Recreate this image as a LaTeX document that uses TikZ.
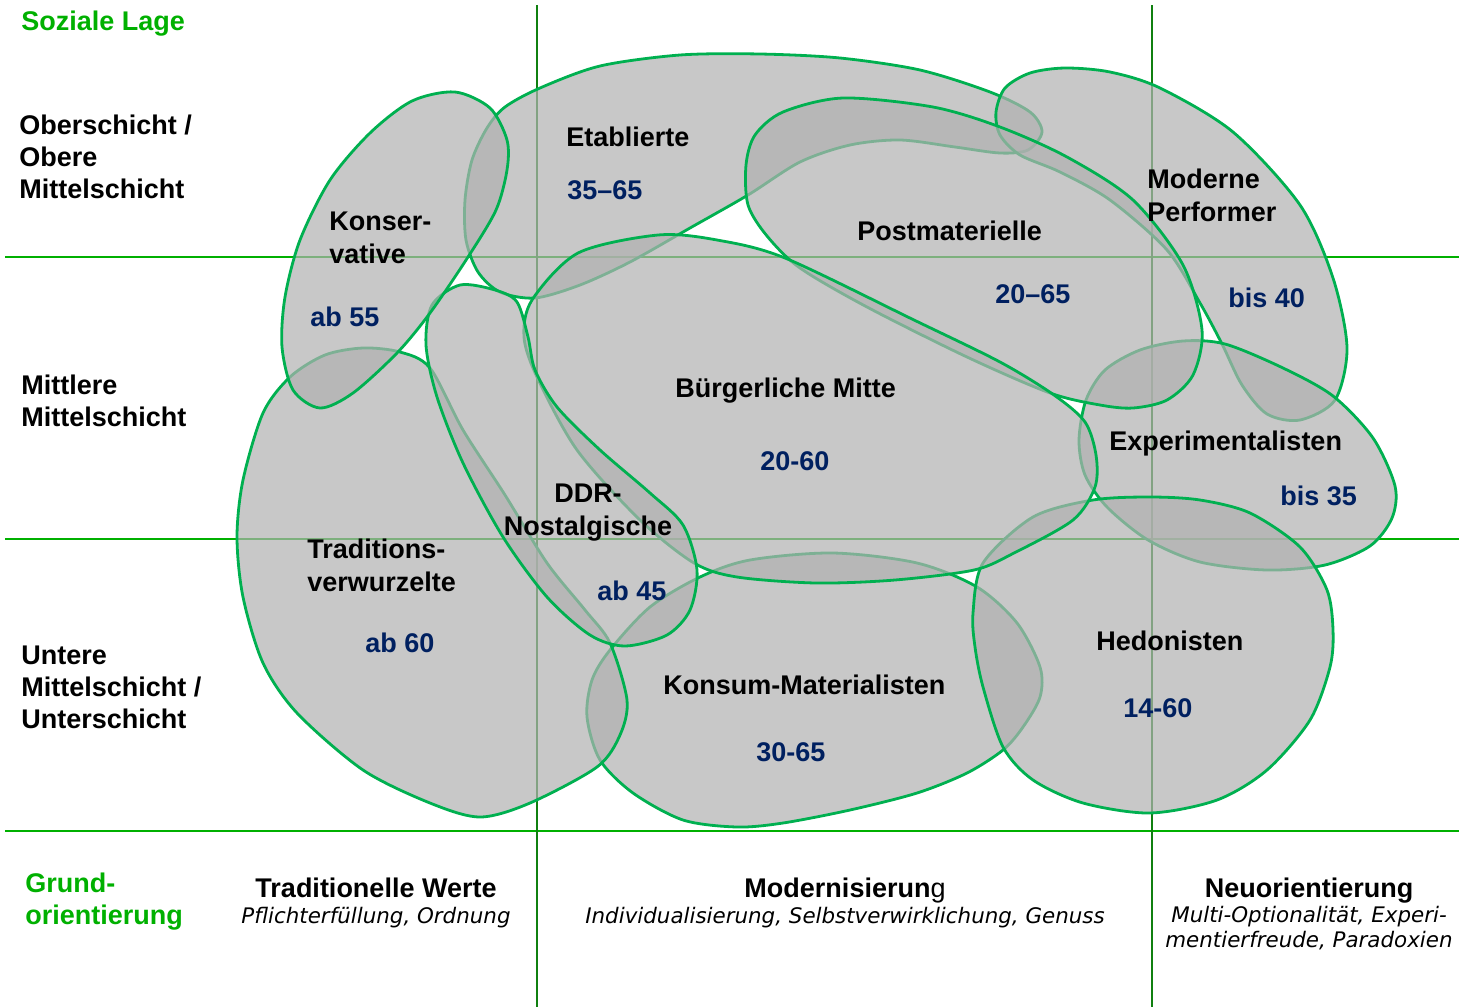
\documentclass[tikz,border=0pt]{standalone}
\usepackage{fontspec}
\setmainfont{Liberation Sans}
\newfontfamily\verdfont{DejaVu Sans}
\usepackage{xcolor}
\usepackage{tikz}

\definecolor{linegreen}{RGB}{0,176,0}
\definecolor{axisgreen}{RGB}{16,128,16}
\definecolor{blobline}{RGB}{0,176,80}
\definecolor{blobgray}{RGB}{177,177,177}
\definecolor{agenavy}{RGB}{0,32,96}

\begin{document}
\begin{tikzpicture}[x=0.5pt,y=-0.5pt,
    milieu/.style={draw=blobline, line width=1.4pt, fill=blobgray, fill opacity=0.71},
    hline/.style={draw=linegreen, line width=1pt},
    vline/.style={draw=axisgreen, line width=1pt},
    layertext/.style={font=\fontsize{13.5}{16}\selectfont\bfseries, inner sep=0pt, anchor=west, align=left},
    milieutext/.style={font=\fontsize{13.5}{16.5}\selectfont\bfseries, inner sep=0pt, anchor=base west, align=left},
    agetext/.style={milieutext, text=agenavy},
    valuehead/.style={font=\fontsize{13.5}{16}\selectfont\bfseries, inner sep=0pt, anchor=base, align=center},
    valuesub/.style={font=\verdfont\itshape\fontsize{10.7}{12.5}\selectfont, inner sep=0pt, anchor=base, align=center}]
    \useasboundingbox (0,0) rectangle (1459,1007);

    % raster
    \foreach \y in {257,539,831}
        \draw[hline] (5,\y) -- (1459,\y);
    \foreach \x in {537,1152}
        \draw[vline] (\x,5) -- (\x,1007);

    % milieus, lowest first
    \draw[milieu] plot[smooth cycle] coordinates {(505,107) (540,88) (600,66) (680,55) (760,54) (840,58) (920,70) (990,92) (1030,112) (1042,132) (1028,150) (1000,153) (955,147) (900,140) (850,145) (800,162) (748,195) (690,228) (630,262) (580,285) (535,298) (500,292) (478,272) (466,240) (465,200) (472,160) (487,128)};
    \draw[milieu] plot[smooth cycle] coordinates {(996,112) (1005,88) (1030,73) (1065,68) (1110,72) (1160,88) (1233,132) (1300,205) (1333,278) (1347,348) (1335,400) (1300,420) (1267,414) (1242,385) (1222,344) (1200,303) (1167,250) (1110,200) (1060,172) (1020,155) (1000,135)};
    \draw[milieu] plot[smooth cycle] coordinates {(1079,440) (1086,400) (1105,370) (1140,350) (1183,341) (1225,344) (1283,368) (1333,396) (1373,438) (1395,486) (1392,518) (1370,546) (1325,565) (1267,570) (1200,562) (1148,540) (1107,507) (1085,475)};
    \draw[milieu] plot[smooth cycle] coordinates {(748,205) (746,165) (755,135) (783,112) (843,98) (933,107) (1000,127) (1067,157) (1133,200) (1183,265) (1202,330) (1193,375) (1167,400) (1133,408) (1100,405) (1050,393) (967,357) (867,307) (800,268) (767,236)};
    \draw[milieu] plot[smooth cycle] coordinates {(587,717) (592,680) (610,650) (650,607) (700,577) (750,560) (833,553) (917,563) (977,587) (1017,623) (1040,667) (1040,697) (1023,727) (1003,750) (967,773) (917,793) (850,810) (783,823) (737,827) (683,820) (633,793) (600,760)};
    \draw[milieu] plot[smooth cycle] coordinates {(363,348) (400,352) (430,368) (463,430) (505,495) (547,563) (585,610) (610,643) (627,700) (620,735) (597,767) (530,803) (480,817) (430,803) (363,770) (297,713) (263,663) (243,597) (237,537) (243,480) (263,413) (290,377) (325,355)};
    \draw[milieu] plot[smooth cycle] coordinates {(1150,497) (1200,500) (1250,513) (1300,547) (1327,590) (1333,630) (1330,667) (1310,720) (1267,770) (1217,800) (1150,813) (1083,803) (1033,780) (1003,747) (983,687) (975,647) (973,613) (983,563) (1033,517) (1093,500)};
    \draw[milieu] plot[smooth cycle] coordinates {(524,337) (532,300) (578,253) (658,235) (717,240) (785,258) (914,320) (1000,362) (1054,395) (1085,422) (1096,455) (1095,487) (1073,520) (1014,553) (974,570) (895,580) (816,583) (737,577) (694,563) (640,520) (577,450) (537,377)};
    \draw[milieu] plot[smooth cycle] coordinates {(460,285) (495,290) (517,302) (528,337) (535,370) (557,407) (600,450) (650,493) (683,525) (697,570) (690,610) (667,635) (625,646) (590,635) (547,597) (503,537) (463,463) (437,397) (426,345) (432,305)};
    \draw[milieu] plot[smooth cycle] coordinates {(455,92) (490,108) (507,140) (507,170) (496,210) (468,257) (430,313) (397,353) (353,393) (320,408) (293,390) (282,347) (285,297) (300,240) (330,180) (370,133) (412,101)};

    % axis titles and layers
    \node[layertext, anchor=base west, text=linegreen] (lage) at (21,30) {Soziale Lage};
    \node[layertext] (ober) at (19,157) {Oberschicht /\\Obere\\Mittelschicht};
    \node[layertext] (mitte) at (21,401) {Mittlere\\Mittelschicht};
    \node[layertext] (unter) at (21,687) {Untere\\Mittelschicht /\\Unterschicht};
    \node[layertext, text=linegreen] (grund) at (25,902) {Grund-\\orientierung};

    % milieu names and ages
    \node[milieutext, anchor=west] (konsname) at (329,238) {Konser-\\vative};
    \node[agetext] (konsage) at (310,326) {ab 55};
    \node[milieutext] (etabname) at (566,146) {Etablierte};
    \node[agetext] (etabage) at (567,199) {35–65};
    \node[milieutext] (postname) at (857,240) {Postmaterielle};
    \node[agetext] (postage) at (995,303) {20–65};
    \node[milieutext, anchor=west] (perfname) at (1147,195) {Moderne\\Performer};
    \node[agetext] (perfage) at (1228,307) {bis 40};
    \node[milieutext] (mittename) at (675,397) {Bürgerliche Mitte};
    \node[agetext] (mitteage) at (760,470) {20-60};
    \node[milieutext] (expname) at (1109,450) {Experimentalisten};
    \node[agetext] (expage) at (1280,505) {bis 35};
    \node[milieutext, anchor=center, align=center] (ddrname) at (588,513) {DDR-\\Nostalgische};
    \node[agetext] (ddrage) at (597,600) {ab 45};
    \node[milieutext, anchor=west] (tradname) at (307,565) {Traditions-\\verwurzelte};
    \node[agetext] (tradage) at (365,652) {ab 60};
    \node[milieutext] (konsumname) at (663,694) {Konsum-Materialisten};
    \node[agetext] (konsumage) at (756,761) {30-65};
    \node[milieutext] (hedname) at (1096,650) {Hedonisten};
    \node[agetext] (hedage) at (1123,717) {14-60};

    % basic orientations
    \node[valuehead] (tradhead) at (376,897) {Traditionelle Werte};
    \node[valuesub] (tradsub) at (376,923) {Pflichterfüllung, Ordnung};
    \node[valuehead] (modhead) at (845,897) {Modernisierun\mdseries g};
    \node[valuesub] (modsub) at (845,923) {Individualisierung, Selbstverwirklichung, Genuss};
    \node[valuehead] (neuhead) at (1309,897) {Neuorientierung};
    \node[valuesub, anchor=north] (neusub) at (1309,906) {Multi-Optionalität, Experi-\\mentierfreude, Paradoxien};
\end{tikzpicture}
\end{document}
